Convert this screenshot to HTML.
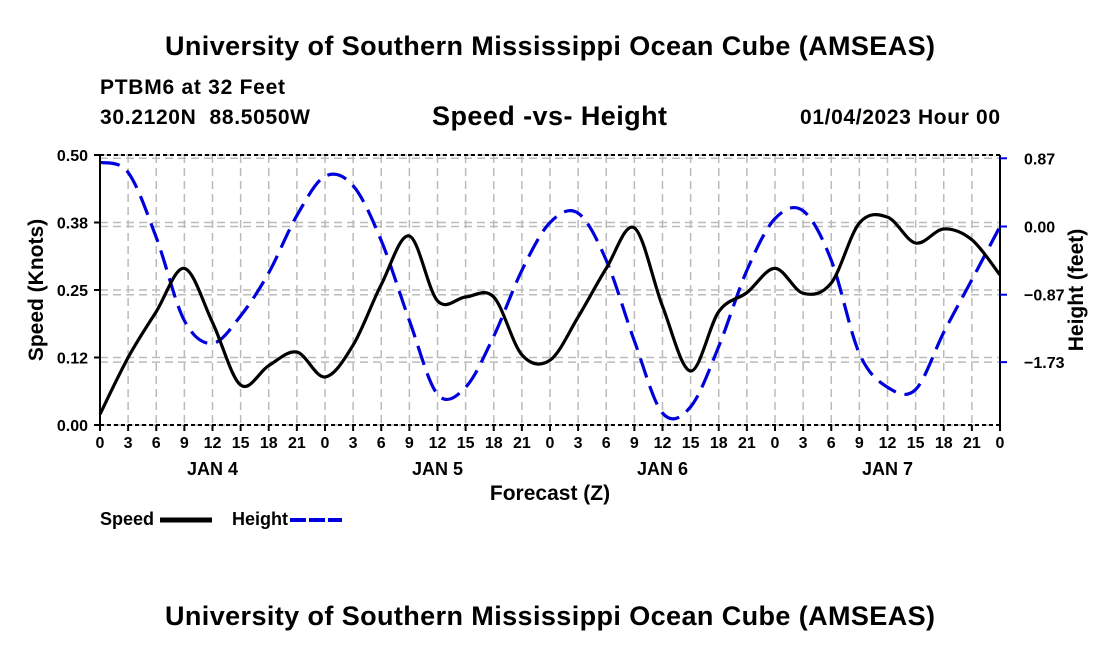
<!DOCTYPE html>
<html><head><meta charset="utf-8"><style>
html,body{margin:0;padding:0;background:#fff;}
svg{display:block;font-family:"Liberation Sans",Arial,sans-serif;font-weight:bold;}
</style></head><body>
<svg id="chart" width="1100" height="650" viewBox="0 0 1100 650">
<text x="165" y="55" font-size="27" textLength="770">University of Southern Mississippi Ocean Cube (AMSEAS)</text>
<text x="100" y="94" font-size="21" textLength="185">PTBM6 at 32 Feet</text>
<text x="100" y="124" font-size="21" xml:space="preserve" textLength="210">30.2120N  88.5050W</text>
<text x="432" y="125" font-size="27" textLength="235">Speed -vs- Height</text>
<text x="800" y="124" font-size="21" textLength="200">01/04/2023 Hour 00</text>
<g id="grid"></g>
<g id="series"></g>
<g id="axes"></g>
<text transform="translate(43,290) rotate(-90)" text-anchor="middle" font-size="21">Speed (Knots)</text>
<text transform="translate(1083,290) rotate(-90)" text-anchor="middle" font-size="21">Height (feet)</text>
<text x="550" y="500" text-anchor="middle" font-size="21">Forecast (Z)</text>
<g>
<text x="100" y="525" font-size="18">Speed</text>
<line x1="160" y1="520" x2="212" y2="520" stroke="#000" stroke-width="5"/>
</g>
<g>
<text x="232" y="525" font-size="18">Height</text>
<line x1="290" y1="520" x2="342" y2="520" stroke="#0000dd" stroke-width="4" stroke-dasharray="16,3"/>
</g>
<text x="165" y="625" font-size="27" textLength="770">University of Southern Mississippi Ocean Cube (AMSEAS)</text>
</svg>
<script>
const hours = [0,3,6,9,12,15,18,21,24,27,30,33,36,39,42,45,48,51,54,57,60,63,66,69,72,75,78,81,84,87,90,93,96];
const speedValues = [0.02,0.125,0.21,0.29,0.19,0.074,0.11,0.135,0.089,0.148,0.26,0.35,0.23,0.237,0.237,0.13,0.12,0.2,0.29,0.365,0.22,0.1,0.21,0.245,0.29,0.244,0.263,0.374,0.385,0.337,0.363,0.343,0.278];
const heightValues = [0.82,0.69,-0.14,-1.20,-1.49,-1.14,-0.59,0.14,0.64,0.52,-0.18,-1.20,-2.14,-2.05,-1.40,-0.56,0.05,0.17,-0.43,-1.46,-2.38,-2.30,-1.53,-0.56,0.10,0.20,-0.43,-1.62,-2.05,-2.08,-1.35,-0.68,0.0];
const leftTicks = [0,0.125,0.25,0.375,0.5];
const leftTickLabels = ["0.00","0.12","0.25","0.38","0.50"];
const rightTicks = [0.87,0,-0.87,-1.73];
const rightTickLabels = ["0.87","0.00","\u22120.87","\u22121.73"];
const xTickHours = [0,3,6,9,12,15,18,21,24,27,30,33,36,39,42,45,48,51,54,57,60,63,66,69,72,75,78,81,84,87,90,93,96];
const dayLabels = ["JAN 4","JAN 5","JAN 6","JAN 7"];

const NS="http://www.w3.org/2000/svg";
const X0=100,X1=1000,YB=425,YT=155;
const xs=h=>X0+(h/96)*(X1-X0);
const ysL=v=>YB-(v/0.5)*(YB-YT);
const ysR=v=>226.5-v*78.4;
function mk(tag,attrs,parent){const e=document.createElementNS(NS,tag);for(const k in attrs)e.setAttribute(k,attrs[k]);parent.appendChild(e);return e;}
const grid=document.getElementById('grid'),series=document.getElementById('series'),axes=document.getElementById('axes');
const gs={stroke:"#bbb","stroke-width":1.5,"stroke-dasharray":"8,5",fill:"none"};
xTickHours.forEach(h=>{const l=mk('line',Object.assign({x1:xs(h),x2:xs(h),y1:YT,y2:YB},gs),grid);

});
leftTicks.forEach(v=>{const l=mk('line',Object.assign({x1:X0,x2:X1,y1:ysL(v),y2:ysL(v)},gs),grid);

});
rightTicks.forEach(v=>{const l=mk('line',Object.assign({x1:X0,x2:X1,y1:ysR(v),y2:ysR(v)},gs),grid);

});
function smooth(pts){let d=`M${pts[0][0]},${pts[0][1]}`;for(let i=0;i<pts.length-1;i++){const p0=pts[i-1]||pts[i],p1=pts[i],p2=pts[i+1],p3=pts[i+2]||p2;
d+=` C${p1[0]+(p2[0]-p0[0])/6},${p1[1]+(p2[1]-p0[1])/6} ${p2[0]-(p3[0]-p1[0])/6},${p2[1]-(p3[1]-p1[1])/6} ${p2[0]},${p2[1]}`;}return d;}
const hp=mk('path',{d:smooth(hours.map((h,i)=>[xs(h),ysR(heightValues[i])])),stroke:"#0000dd","stroke-width":3.2,fill:"none","stroke-dasharray":"20,9"},series);


const sp=mk('path',{d:smooth(hours.map((h,i)=>[xs(h),ysL(speedValues[i])])),stroke:"#000","stroke-width":3.2,fill:"none"},series);


mk('line',{x1:X0,x2:X1,y1:YT,y2:YT,stroke:"#000","stroke-width":2,"stroke-dasharray":"4,3"},axes);
mk('line',{x1:X0,x2:X1,y1:YB,y2:YB,stroke:"#000","stroke-width":2,"stroke-dasharray":"4,3"},axes);
mk('line',{x1:X0,x2:X0,y1:YT,y2:YB,stroke:"#000","stroke-width":2},axes);
mk('line',{x1:X1,x2:X1,y1:YT,y2:YB,stroke:"#000","stroke-width":2},axes);
leftTicks.forEach((v,i)=>{mk('line',{x1:X0-6,x2:X0,y1:ysL(v),y2:ysL(v),stroke:"#000","stroke-width":2},axes);
const t=mk('text',{x:X0-12,y:ysL(v)+6,"text-anchor":"end","font-size":16},axes);t.textContent=leftTickLabels[i];

});
rightTicks.forEach((v,i)=>{mk('line',{x1:X1,x2:X1+7,y1:ysR(v),y2:ysR(v),stroke:"#0000dd","stroke-width":2},axes);
const t=mk('text',{x:1024,y:ysR(v)+6,"font-size":16},axes);t.textContent=rightTickLabels[i];

});
xTickHours.forEach(h=>{mk('line',{x1:xs(h),x2:xs(h),y1:YB,y2:YB+6,stroke:"#000","stroke-width":2},axes);
const t=mk('text',{x:xs(h),y:448,"text-anchor":"middle","font-size":16},axes);t.textContent=String(h%24);

});
dayLabels.forEach((d,i)=>{const t=mk('text',{x:xs(12+24*i),y:475,"text-anchor":"middle","font-size":18},axes);t.textContent=d;

});
</script>
</body></html>
